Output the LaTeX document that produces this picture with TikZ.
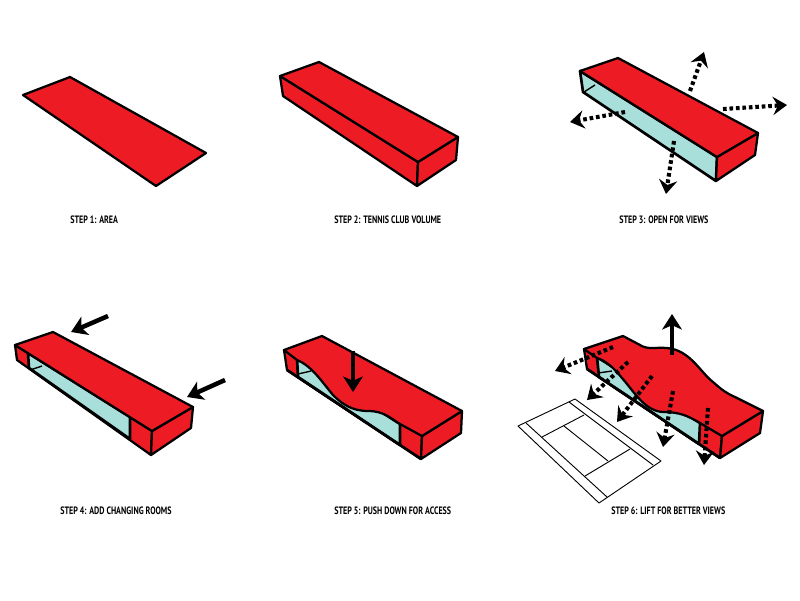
\documentclass[tikz,border=0pt]{standalone}
\usepackage{fontspec}
\usetikzlibrary{arrows.meta}
\newfontfamily\labelfont[FakeStretch=0.75]{PT Sans}
\definecolor{roofred}{HTML}{ED1C24}
\definecolor{glass}{HTML}{A9DFDA}
\tikzset{
    mass/.style={fill=roofred, draw=black, line width=1.6pt, line join=round},
    window/.style={fill=glass, draw=black, line width=1.9pt, line join=round},
    views/.style={line width=2.9pt, dash pattern=on 2.6pt off 2pt, -{Stealth[length=10pt,width=13pt,inset=3.5pt]}},
    move/.style={line width=3.2pt, -{Stealth[length=11pt,width=14pt,inset=3pt]}},
    court/.style={line width=0.65pt, line join=round},
    steplabel/.style={anchor=west, inner sep=0pt, font=\labelfont\bfseries\fontsize{7.6}{9}\selectfont}
}
\begin{document}
\begin{tikzpicture}[x=0.025cm, y=-0.025cm]
    \useasboundingbox (0,0) rectangle (800,600);
    % step 1
    \draw[mass] (23,95) -- (70,77) -- (206,153) -- (156,186) -- cycle;
    \node[steplabel] (area) at (70,220) {STEP 1: AREA};
    % step 2
    \draw[mass] (280,76) -- (418,162) -- (417,186) -- (283,96) -- cycle;
    \draw[mass] (418,162) -- (458,137) -- (456,160) -- (417,186) -- cycle;
    \draw[mass] (280,76) -- (319,62) -- (458,137) -- (418,162) -- cycle;
    \node[steplabel] (volume) at (334,220) {STEP 2: TENNIS CLUB VOLUME};
    % step 3
    \draw[window] (580,71) -- (717,157) -- (716,181) -- (583,92) -- cycle;
    \draw[mass] (717,157) -- (758,133) -- (755,155) -- (716,181) -- cycle;
    \draw[mass] (580,71) -- (618,58) -- (758,133) -- (717,157) -- cycle;
    \draw[line width=1pt] (584,92) -- (595,85);
    \draw[views] (690,91) -- (704,52);
    \draw[views] (723,109) -- (787,105);
    \draw[views] (625,112) -- (570,122);
    \draw[views] (674,141) -- (666,194);
    \node[steplabel] (open) at (619,220) {STEP 3: OPEN FOR VIEWS};
    % step 4
    \draw[mass] (15,345) -- (152,431) -- (151,455) -- (17,360) -- cycle;
    \draw[window] (28,353) -- (130,417) -- (130,439) -- (29,368) -- cycle;
    \draw[mass] (152,431) -- (193,407) -- (191,428) -- (151,455) -- cycle;
    \draw[mass] (15,345) -- (53,332) -- (193,407) -- (152,431) -- cycle;
    \draw[line width=1pt] (30,370) -- (42,366);
    \draw[move] (108,316) -- (71,332);
    \draw[move] (225,380) -- (187,397);
    \node[steplabel] (rooms) at (60,511) {STEP 4: ADD CHANGING ROOMS};
    % step 5
    \draw[mass] (284,350) -- (422,436) -- (421,459) -- (287,370) -- cycle;
    \draw[window] (297,358) -- (400,424) -- (400,445) -- (298,377) -- cycle;
    \draw[mass] (422,436) -- (462,411) -- (461,433) -- (421,459) -- cycle;
    \draw[line width=1pt] (298,374) -- (311,371);
    \draw[mass] (284,350) -- (322,336) -- (462,411) -- (422,436) -- (400,424)
        .. controls (390,418) and (384,411) .. (368,411)
        .. controls (352,411) and (342,404) .. (333,395)
        .. controls (322,382) and (312,366) .. (297,360) -- cycle;
    \draw[line width=1.9pt] (287,370) -- (421,459);
    \draw[move] (353,351) -- (353,392);
    \node[steplabel] (access) at (334,511) {STEP 5: PUSH DOWN FOR ACCESS};
    % step 6, the court first
    \draw[court] (518,426) -- (575,399) -- (661,461) -- (599,503) -- cycle;
    \draw[court] (526,423) -- (607,497);
    \draw[court] (569,402) -- (653,465);
    \draw[court] (542,437) -- (584,415);
    \draw[court] (585,476) -- (630,449);
    \draw[court] (564,426) -- (608,461);
    \draw[mass] (584,349) -- (722,436) -- (720,458) -- (587,369) -- cycle;
    \draw[window] (597,357) -- (700,423) -- (699,444) -- (599,377) -- cycle;
    \draw[mass] (722,436) -- (763,411) -- (760,433) -- (720,458) -- cycle;
    \draw[line width=1pt] (598,373) -- (612,371);
    \draw[mass] (584,349) -- (623,336) -- (640,345)
        .. controls (648,350) and (655,347) .. (667,348)
        .. controls (690,350) and (700,372) .. (713,382)
        .. controls (722,390) and (726,393) .. (735,397)
        -- (763,411) -- (722,436) -- (700,423)
        .. controls (688,416) and (680,412) .. (663,412)
        .. controls (645,411) and (635,393) .. (622,378)
        .. controls (613,367) and (606,361) .. (597,358) -- cycle;
    \draw[line width=1.9pt] (587,369) -- (720,458);
    \draw[move] (672,355) -- (672,314);
    \draw[views] (613,347) -- (555,371);
    \draw[views] (628,362) -- (587,400);
    \draw[views] (652,376) -- (617,422);
    \draw[views] (673,391) -- (663,447);
    \draw[views] (708,408) -- (704,465);
    \node[steplabel] (lift) at (611,511) {STEP 6: LIFT FOR BETTER VIEWS};
\end{tikzpicture}
\end{document}
